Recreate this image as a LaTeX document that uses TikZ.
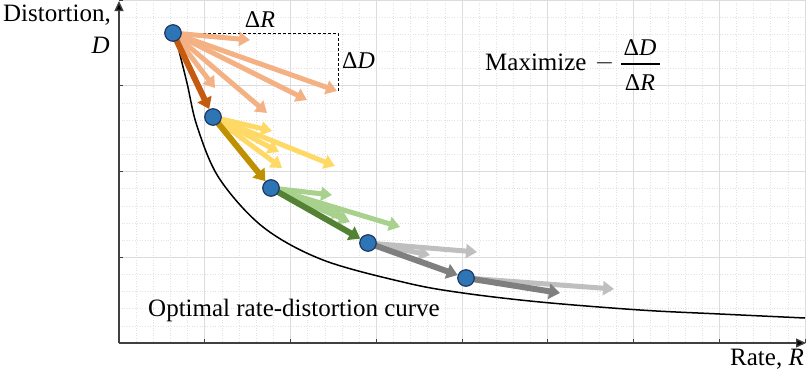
\documentclass[tikz,border=0pt]{standalone}
\usepackage{fontspec}
\setmainfont{Liberation Serif}
\usetikzlibrary{arrows.meta}
\definecolor{peach}{HTML}{F4B183}
\definecolor{dorange}{HTML}{C55A11}
\definecolor{lyellow}{HTML}{FFD966}
\definecolor{dyellow}{HTML}{BF9000}
\definecolor{lgreen}{HTML}{A9D18E}
\definecolor{dgreen}{HTML}{548235}
\definecolor{lgray}{HTML}{BFBFBF}
\definecolor{dgray}{HTML}{7F7F7F}
\definecolor{dotblue}{HTML}{2E75B6}
\definecolor{dotnavy}{HTML}{1F3864}
\definecolor{gridmaj}{HTML}{DCDCDC}
\definecolor{gridmin}{HTML}{E2E2E2}
\definecolor{axisc}{HTML}{404040}
\pgfdeclarelayer{bg}
\pgfdeclarelayer{arrs}
\pgfsetlayers{bg,arrs,main}
\begin{document}
\begin{tikzpicture}[x=1pt,y=-1pt,
  txt/.style={font=\fontsize{25}{30}\selectfont, inner sep=0pt},
  smalltxt/.style={font=\fontsize{24}{28}\selectfont, inner sep=0pt},
  arr/.style={line width=5pt, -{Triangle[length=11pt,width=14pt]}},
  darr/.style={line width=6pt, -{Triangle[length=11pt,width=15pt]}},
  dot/.style={circle, fill=dotblue, draw=dotnavy, line width=1.2pt, minimum size=16.5pt, inner sep=0pt},
  minorgrid/.style={gridmin, line width=0.6pt, dotted},
  majorgrid/.style={gridmaj, line width=0.8pt},
  axisline/.style={axisc, line width=1.4pt},
  tickmark/.style={axisc, line width=1pt}
]
\useasboundingbox (0,0) rectangle (806,373);

% grid and axes
\begin{pgfonlayer}{bg}
  \foreach \i in {0,...,40} {
    \draw[minorgrid] ({119+\i*17.15},0) -- ({119+\i*17.15},343);
  }
  \foreach \j in {0,...,20} {
    \draw[minorgrid] (119,{343-\j*17.15}) -- (805,{343-\j*17.15});
  }
  \foreach \i in {1,...,8} {
    \draw[majorgrid] ({119+\i*85.75},0) -- ({119+\i*85.75},343);
    \draw[tickmark] ({119+\i*85.75},343) -- ({119+\i*85.75},339);
  }
  \foreach \j in {1,...,4} {
    \draw[majorgrid] (119,{343-\j*85.75}) -- (805,{343-\j*85.75});
    \draw[tickmark] (119,{343-\j*85.75}) -- (123,{343-\j*85.75});
  }
  \coordinate (origin) at (119,343);
  \coordinate (ytip) at (119,1);
  \coordinate (xtip) at (806,343);
  \draw[axisline, -{Triangle[length=10pt,width=9pt,fill=black]}] (origin) -- (ytip);
  \draw[axisline, -{Triangle[length=10pt,width=9pt,fill=black]}] (origin) -- (xtip);
  % optimal curve
  \draw[black, line width=1.5pt] plot[smooth, tension=0.55] coordinates {
    (175,35) (187,83) (197,126) (219,178) (263,227) (323,260) (407,283)
    (463,293) (540,302) (640,310) (720,314) (805,318)};
\end{pgfonlayer}

% dots
\node[dot] (p1) at (173,33) {};
\node[dot] (p2) at (213,117) {};
\node[dot] (p3) at (271,188) {};
\node[dot] (p4) at (368,243) {};
\node[dot] (p5) at (466,278) {};

% free ends of candidate arrows
\coordinate (a1) at (250,40);
\coordinate (a2) at (215,88);
\coordinate (a3) at (267,113);
\coordinate (a4) at (307,100);
\coordinate (a5) at (337,91);
\coordinate (b1) at (272,131);
\coordinate (b2) at (279,152);
\coordinate (b3) at (282,168);
\coordinate (b4) at (335,166);
\coordinate (c1) at (332,195);
\coordinate (c2) at (344,216);
\coordinate (c3) at (350,222);
\coordinate (c4) at (400,227);
\coordinate (d1) at (430,255);
\coordinate (d2) at (477,252);
\coordinate (e1) at (614,289);
\coordinate (e2) at (560,293);
\coordinate (dr) at (338,33);
\coordinate (dc) at (338,91);

\begin{pgfonlayer}{arrs}
  \draw[black, line width=0.8pt, dash pattern=on 3pt off 2pt] (p1.center) -- (dr) -- (dc);
  \foreach \t in {a1,a2,a3,a4,a5} \draw[arr, peach] (p1.center) -- (\t);
  \draw[darr, dorange] (p1.center) -- (p2);
  \foreach \t in {b1,b2,b3,b4} \draw[arr, lyellow] (p2.center) -- (\t);
  \draw[darr, dyellow] (p2.center) -- (p3);
  \foreach \t in {c1,c2,c3,c4} \draw[arr, lgreen] (p3.center) -- (\t);
  \draw[darr, dgreen] (p3.center) -- (p4);
  \foreach \t in {d1,d2} \draw[arr, lgray] (p4.center) -- (\t);
  \draw[darr, dgray] (p4.center) -- (p5);
  \draw[arr, lgray] (p5.center) -- (e1);
  \draw[darr, dgray] (p5.center) -- (e2);
\end{pgfonlayer}

% labels
\node[txt, anchor=base east] (ylab) at (111,21) {Distortion,};
\node[txt, anchor=base east] (ylab2) at (110,53) {\textit{D}};
\node[txt, anchor=base east] (xlab) at (804,365) {Rate, \textit{R}};
\node[txt, anchor=base west] (curvelab) at (148,316) {Optimal rate-distortion curve};
\node[smalltxt, anchor=base] (dR) at (260,27) {Δ\textit{R}};
\node[smalltxt, anchor=base west] (dD) at (342,68) {Δ\textit{D}};
\node[txt, anchor=base west] (maxlab) at (485,70) {Maximize};
\node[inner sep=0pt, font=\fontsize{30}{34}\selectfont] (minus) at (604.5,63) {$-$};
\node[smalltxt, anchor=base] (fnum) at (640,55) {Δ\textit{D}};
\node[smalltxt, anchor=base] (fden) at (640,90) {Δ\textit{R}};
\draw[black, line width=1.1pt] (621,64) -- (660,64);
\end{tikzpicture}
\end{document}
